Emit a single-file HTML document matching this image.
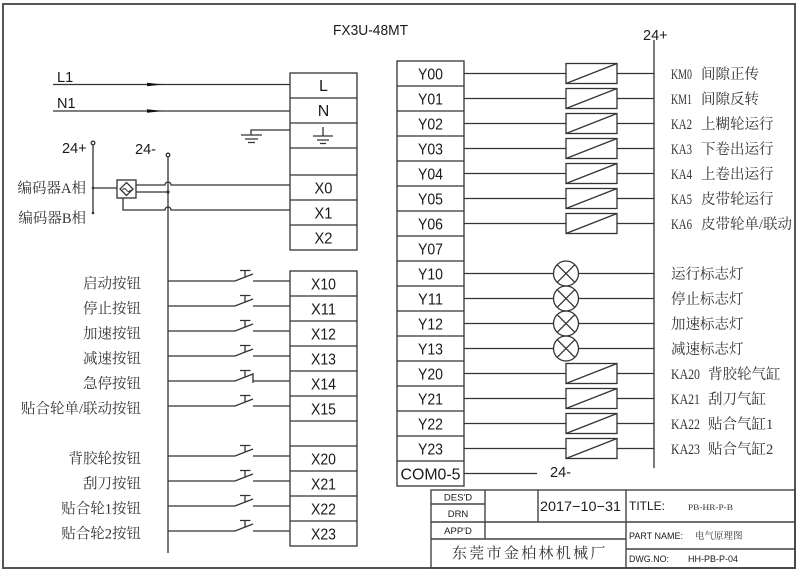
<!DOCTYPE html>
<html><head><meta charset="utf-8"><style>
html,body{margin:0;padding:0;background:#fff;}
svg{display:block;}
.s{font-family:"Liberation Sans",Arial,sans-serif;fill:#1a1a1a;}
.c{font-family:"Liberation Serif","Noto Serif CJK SC",serif;fill:#333;}
</style></head><body>
<svg width="800" height="572" viewBox="0 0 800 572" xmlns="http://www.w3.org/2000/svg">
<rect x="0" y="0" width="800" height="572" fill="#fff"/>
<rect x="3" y="4" width="792" height="564" fill="none" stroke="#555" stroke-width="2"/>

<text class="s" x="333" y="35" font-size="14.5" textLength="75" lengthAdjust="spacingAndGlyphs">FX3U-48MT</text>

<g stroke="#333" stroke-width="1.3" fill="none">
<path d="M53 84.5H290M53 111H290"/>
<path d="M290 130H251V135M241 135H262M245 139H258M248 142.5H255"/>
<path d="M323 127V136M313 136H333M317 140H329M320 143.5H326"/>
<rect x="290" y="73" width="67" height="177"/>
<path d="M290 98H357M290 123H357M290 148H357M290 175H357M290 200H357M290 225H357"/>
<rect x="290" y="271" width="67" height="275"/>
<path d="M290 296H357M290 321H357M290 346H357M290 371H357M290 396H357M290 421H357M290 446H357M290 471H357M290 496H357M290 521H357"/>
<rect x="397" y="61" width="67" height="425"/>
<path d="M397 86H464M397 111H464M397 136H464M397 161H464M397 186H464M397 211H464M397 236H464M397 261H464M397 286H464M397 311H464M397 336H464M397 361H464M397 386H464M397 411H464M397 436H464M397 461H464"/>

<path d="M93 145V213"/>
<circle cx="93" cy="143" r="1.8"/>
<path d="M93 188H117"/>
<rect x="117" y="180" width="19" height="18"/>
<path d="M126.5 182.5L133 189L126.5 195.5L120 189Z"/>
<path d="M122.5 190q2 -3 4 0t4 0" stroke-width="1"/>
<path d="M136 185H165a3 3 0 0 1 6 0H290"/>
<path d="M136 192H168"/>
<path d="M123 198V210H165a3 3 0 0 1 6 0H290"/>
<path d="M168 157V553"/>
<circle cx="168" cy="155" r="1.8"/>

<path d="M654 40V468"/>
<path d="M464 473.5H537"/>
</g>
<circle cx="168" cy="192" r="1.6" fill="#333"/>
<circle cx="93" cy="188" r="1.3" fill="#333"/>
<circle cx="93" cy="213" r="1.3" fill="#333"/>

<polygon points="147,82.8 163,84.5 147,86.2" fill="#111"/>
<polygon points="147,109.3 163,111 147,112.7" fill="#111"/>

<text class="s" x="57" y="82" font-size="14.5">L1</text>
<text class="s" x="57" y="108" font-size="14.5">N1</text>
<text class="s" x="62" y="153" font-size="14.5">24+</text>
<text class="s" x="135" y="154" font-size="14.5">24-</text>
<text class="s" x="643" y="40" font-size="14.5">24+</text>
<text class="s" x="550" y="477" font-size="14.5">24-</text>

<g class="s" font-size="16" text-anchor="middle" lengthAdjust="spacingAndGlyphs">
<text x="323.5" y="91">L</text>
<text x="323.5" y="116">N</text>
<text x="323.5" y="193.5" textLength="18" lengthAdjust="spacingAndGlyphs">X0</text>
<text x="323.5" y="218.5" textLength="18" lengthAdjust="spacingAndGlyphs">X1</text>
<text x="323.5" y="243.5" textLength="18" lengthAdjust="spacingAndGlyphs">X2</text>
<text x="323.5" y="289.5" textLength="25" lengthAdjust="spacingAndGlyphs">X10</text>
<text x="323.5" y="314.5" textLength="25" lengthAdjust="spacingAndGlyphs">X11</text>
<text x="323.5" y="339.5" textLength="25" lengthAdjust="spacingAndGlyphs">X12</text>
<text x="323.5" y="364.5" textLength="25" lengthAdjust="spacingAndGlyphs">X13</text>
<text x="323.5" y="389.5" textLength="25" lengthAdjust="spacingAndGlyphs">X14</text>
<text x="323.5" y="414.5" textLength="25" lengthAdjust="spacingAndGlyphs">X15</text>
<text x="323.5" y="464.5" textLength="25" lengthAdjust="spacingAndGlyphs">X20</text>
<text x="323.5" y="489.5" textLength="25" lengthAdjust="spacingAndGlyphs">X21</text>
<text x="323.5" y="514.5" textLength="25" lengthAdjust="spacingAndGlyphs">X22</text>
<text x="323.5" y="539.5" textLength="25" lengthAdjust="spacingAndGlyphs">X23</text>
</g>

<g class="s" font-size="16" text-anchor="middle">
<text x="430.5" y="79.5" textLength="25" lengthAdjust="spacingAndGlyphs">Y00</text>
<text x="430.5" y="104.5" textLength="25" lengthAdjust="spacingAndGlyphs">Y01</text>
<text x="430.5" y="129.5" textLength="25" lengthAdjust="spacingAndGlyphs">Y02</text>
<text x="430.5" y="154.5" textLength="25" lengthAdjust="spacingAndGlyphs">Y03</text>
<text x="430.5" y="179.5" textLength="25" lengthAdjust="spacingAndGlyphs">Y04</text>
<text x="430.5" y="204.5" textLength="25" lengthAdjust="spacingAndGlyphs">Y05</text>
<text x="430.5" y="229.5" textLength="25" lengthAdjust="spacingAndGlyphs">Y06</text>
<text x="430.5" y="254.5" textLength="25" lengthAdjust="spacingAndGlyphs">Y07</text>
<text x="430.5" y="279.5" textLength="25" lengthAdjust="spacingAndGlyphs">Y10</text>
<text x="430.5" y="304.5" textLength="25" lengthAdjust="spacingAndGlyphs">Y11</text>
<text x="430.5" y="329.5" textLength="25" lengthAdjust="spacingAndGlyphs">Y12</text>
<text x="430.5" y="354.5" textLength="25" lengthAdjust="spacingAndGlyphs">Y13</text>
<text x="430.5" y="379.5" textLength="25" lengthAdjust="spacingAndGlyphs">Y20</text>
<text x="430.5" y="404.5" textLength="25" lengthAdjust="spacingAndGlyphs">Y21</text>
<text x="430.5" y="429.5" textLength="25" lengthAdjust="spacingAndGlyphs">Y22</text>
<text x="430.5" y="454.5" textLength="25" lengthAdjust="spacingAndGlyphs">Y23</text>
<text x="430.5" y="479.5" textLength="60" lengthAdjust="spacingAndGlyphs">COM0-5</text>
</g>

<g class="c" font-size="14.5" text-anchor="end">
<text x="86" y="193">编码器A相</text>
<text x="86" y="223">编码器B相</text>
</g>

<g stroke="#333" stroke-width="1.3" fill="none">
<g transform="translate(0,281)"><path d="M168 0H235L253 -7M253 0H290M245 -4V-10M240 -10.5H250.5"/></g>
<g transform="translate(0,306)"><path d="M168 0H235L253 -7M253 0H290M245 -4V-10M240 -10.5H250.5"/></g>
<g transform="translate(0,331)"><path d="M168 0H235L253 -7M253 0H290M245 -4V-10M240 -10.5H250.5"/></g>
<g transform="translate(0,356)"><path d="M168 0H235L253 -7M253 0H290M245 -4V-10M240 -10.5H250.5"/></g>
<g transform="translate(0,381)"><path d="M168 0H235L253 -7M253 0H290M245 -4V-10M240 -10.5H250.5M253 -8V2"/></g>
<g transform="translate(0,406)"><path d="M168 0H235L253 -7M253 0H290M245 -4V-10M240 -10.5H250.5"/></g>
<g transform="translate(0,456)"><path d="M168 0H235L253 -7M253 0H290M245 -4V-10M240 -10.5H250.5"/></g>
<g transform="translate(0,481)"><path d="M168 0H235L253 -7M253 0H290M245 -4V-10M240 -10.5H250.5"/></g>
<g transform="translate(0,506)"><path d="M168 0H235L253 -7M253 0H290M245 -4V-10M240 -10.5H250.5"/></g>
<g transform="translate(0,531)"><path d="M168 0H235L253 -7M253 0H290M245 -4V-10M240 -10.5H250.5"/></g>
</g>

<g class="c" font-size="14.5" text-anchor="end">
<text x="141" y="288.5">启动按钮</text>
<text x="141" y="313.5">停止按钮</text>
<text x="141" y="338.5">加速按钮</text>
<text x="141" y="363.5">减速按钮</text>
<text x="141" y="388.5">急停按钮</text>
<text x="141" y="413.5">贴合轮单/联动按钮</text>
<text x="141" y="463.5">背胶轮按钮</text>
<text x="141" y="488.5">刮刀按钮</text>
<text x="141" y="513.5">贴合轮1按钮</text>
<text x="141" y="538.5">贴合轮2按钮</text>
</g>

<g stroke="#333" stroke-width="1.3" fill="none">
<g transform="translate(0,73.5)"><path d="M464 0H566M617 0H654"/><rect x="566" y="-10" width="51" height="20"/><path d="M566 10L617 -10"/></g>
<g transform="translate(0,98.5)"><path d="M464 0H566M617 0H654"/><rect x="566" y="-10" width="51" height="20"/><path d="M566 10L617 -10"/></g>
<g transform="translate(0,123.5)"><path d="M464 0H566M617 0H654"/><rect x="566" y="-10" width="51" height="20"/><path d="M566 10L617 -10"/></g>
<g transform="translate(0,148.5)"><path d="M464 0H566M617 0H654"/><rect x="566" y="-10" width="51" height="20"/><path d="M566 10L617 -10"/></g>
<g transform="translate(0,173.5)"><path d="M464 0H566M617 0H654"/><rect x="566" y="-10" width="51" height="20"/><path d="M566 10L617 -10"/></g>
<g transform="translate(0,198.5)"><path d="M464 0H566M617 0H654"/><rect x="566" y="-10" width="51" height="20"/><path d="M566 10L617 -10"/></g>
<g transform="translate(0,223.5)"><path d="M464 0H566M617 0H654"/><rect x="566" y="-10" width="51" height="20"/><path d="M566 10L617 -10"/></g>
<g transform="translate(0,373.5)"><path d="M464 0H566M617 0H654"/><rect x="566" y="-10" width="51" height="20"/><path d="M566 10L617 -10"/></g>
<g transform="translate(0,398.5)"><path d="M464 0H566M617 0H654"/><rect x="566" y="-10" width="51" height="20"/><path d="M566 10L617 -10"/></g>
<g transform="translate(0,423.5)"><path d="M464 0H566M617 0H654"/><rect x="566" y="-10" width="51" height="20"/><path d="M566 10L617 -10"/></g>
<g transform="translate(0,448.5)"><path d="M464 0H566M617 0H654"/><rect x="566" y="-10" width="51" height="20"/><path d="M566 10L617 -10"/></g>
<g transform="translate(0,273.5)"><path d="M464 0H553.5M578.5 0H654"/><circle cx="566" cy="0" r="12.5"/><path d="M557.2 -8.8L574.8 8.8M557.2 8.8L574.8 -8.8"/></g>
<g transform="translate(0,298.5)"><path d="M464 0H553.5M578.5 0H654"/><circle cx="566" cy="0" r="12.5"/><path d="M557.2 -8.8L574.8 8.8M557.2 8.8L574.8 -8.8"/></g>
<g transform="translate(0,323.5)"><path d="M464 0H553.5M578.5 0H654"/><circle cx="566" cy="0" r="12.5"/><path d="M557.2 -8.8L574.8 8.8M557.2 8.8L574.8 -8.8"/></g>
<g transform="translate(0,348.5)"><path d="M464 0H553.5M578.5 0H654"/><circle cx="566" cy="0" r="12.5"/><path d="M557.2 -8.8L574.8 8.8M557.2 8.8L574.8 -8.8"/></g>
</g>

<g class="c" font-size="14.5">
<text x="671" y="79" textLength="21" lengthAdjust="spacingAndGlyphs">KM0</text><text x="701" y="79">间隙正传</text>
<text x="671" y="104" textLength="21" lengthAdjust="spacingAndGlyphs">KM1</text><text x="701" y="104">间隙反转</text>
<text x="671" y="129" textLength="21" lengthAdjust="spacingAndGlyphs">KA2</text><text x="701" y="129">上糊轮运行</text>
<text x="671" y="154" textLength="21" lengthAdjust="spacingAndGlyphs">KA3</text><text x="701" y="154">下卷出运行</text>
<text x="671" y="179" textLength="21" lengthAdjust="spacingAndGlyphs">KA4</text><text x="701" y="179">上卷出运行</text>
<text x="671" y="204" textLength="21" lengthAdjust="spacingAndGlyphs">KA5</text><text x="701" y="204">皮带轮运行</text>
<text x="671" y="229" textLength="21" lengthAdjust="spacingAndGlyphs">KA6</text><text x="701" y="229">皮带轮单/联动</text>
<text x="671" y="279">运行标志灯</text>
<text x="671" y="304">停止标志灯</text>
<text x="671" y="329">加速标志灯</text>
<text x="671" y="354">减速标志灯</text>
<text x="671" y="379" textLength="29" lengthAdjust="spacingAndGlyphs">KA20</text><text x="708" y="379">背胶轮气缸</text>
<text x="671" y="404" textLength="29" lengthAdjust="spacingAndGlyphs">KA21</text><text x="708" y="404">刮刀气缸</text>
<text x="671" y="429" textLength="29" lengthAdjust="spacingAndGlyphs">KA22</text><text x="708" y="429">贴合气缸1</text>
<text x="671" y="454" textLength="29" lengthAdjust="spacingAndGlyphs">KA23</text><text x="708" y="454">贴合气缸2</text>
</g>

<g stroke="#444" stroke-width="1.4" fill="none">
<rect x="431" y="490" width="364" height="78"/>
<path d="M485 490V539M538 490V522M626 490V568M431 504H485M431 522H795M431 539H626M626 549H795"/>
</g>
<g class="s">
<text x="458" y="500.5" font-size="9.5" text-anchor="middle">DES'D</text>
<text x="458" y="517" font-size="9.5" text-anchor="middle">DRN</text>
<text x="458" y="534" font-size="9.5" text-anchor="middle">APP'D</text>
<text x="540" y="511" font-size="14" textLength="81" lengthAdjust="spacingAndGlyphs">2017−10−31</text>
<text x="629" y="510" font-size="12" textLength="36" lengthAdjust="spacingAndGlyphs">TITLE:</text>
<text x="629" y="539" font-size="9.5" textLength="54" lengthAdjust="spacingAndGlyphs">PART NAME:</text>
<text x="629" y="562" font-size="9.5" textLength="40" lengthAdjust="spacingAndGlyphs">DWG.NO:</text>
<text x="688" y="562" font-size="9.5" textLength="50" lengthAdjust="spacingAndGlyphs">HH-PB-P-04</text>
</g>
<text class="c" x="688" y="510" font-size="8" fill="#666" textLength="45" lengthAdjust="spacingAndGlyphs">PB-HR-P-B</text>
<text class="c" x="695" y="539" font-size="9.5" fill="#666">电气原理图</text>
<text class="c" x="452" y="558" font-size="15" letter-spacing="2.3">东莞市金柏林机械厂</text>
</svg>
</body></html>
